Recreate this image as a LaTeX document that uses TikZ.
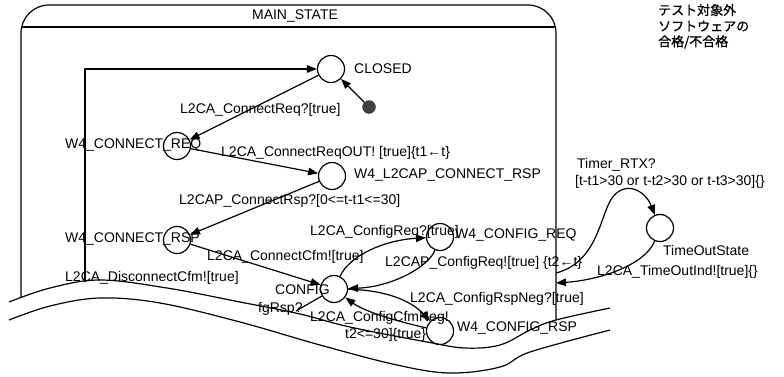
\documentclass[tikz,border=0pt]{standalone}
\usepackage{fontspec}
\setmainfont{Liberation Sans}
\newfontfamily\cjk[FakeBold=1]{Noto Sans CJK JP}
\usetikzlibrary{arrows.meta}
\begin{document}
\begin{tikzpicture}[x=1pt,y=-1pt,font=\fontsize{14}{16}\selectfont,
  st/.style={circle,draw,line width=1.2pt,minimum size=27pt,inner sep=0pt},
  lbl/.style={anchor=west,inner sep=0pt},
  arr/.style={line width=1.2pt,-{Triangle[length=10pt,width=7.5pt]}},
  ln/.style={line width=1.2pt},
  jp/.style={anchor=west,inner sep=0pt,font=\cjk\fontsize{13}{16}\selectfont}]
\useasboundingbox[fill=white] (0,0) rectangle (784,376);

% superstate box
\draw[ln,rounded corners=28pt] (21,298) -- (21,5) -- (556,5) -- (556,320);
\draw[ln] (22,27) -- (555,27);
\node[inner sep=0pt] (title) at (295,16) {MAIN\_STATE};

% states
\node[st] (closed)  at (331,69) {};
\node[circle,fill=black!75,draw=black!75,minimum size=13pt,inner sep=0pt] (init) at (369,107) {};
\node[st] (wcreq)   at (177,146) {};
\node[st] (wl2cap)  at (332,176) {};
\node[st] (wcrsp)   at (177,240) {};
\node[st] (config)  at (334,289) {};
\node[st] (wcfgreq) at (440,237) {};
\node[st] (wcfgrsp) at (440,331) {};
\node[st] (tos)     at (660,228) {};

% state labels
\node[lbl] (lclosed) at (354,69) {CLOSED};
\node[lbl] (lwcreq) at (65,145) {W4\_CONNECT\_REQ};
\node[lbl] (lwl2cap) at (354,175) {W4\_L2CAP\_CONNECT\_RSP};
\node[lbl] (lwcrsp) at (65,239) {W4\_CONNECT\_RSP};
\node[lbl] (lconfig) at (275,290) {CONFIG};
\node[lbl] (lwcfgreq) at (455,235) {W4\_CONFIG\_REQ};
\node[lbl] (lwcfgrsp) at (457,328) {W4\_CONFIG\_RSP};
\node[lbl] (ltos) at (663,250) {TimeOutState};

% free ends
\coordinate (lp) at (85,282);
\coordinate (cfgout) at (296,311);
\coordinate (tb1) at (556,273);
\coordinate (tb2) at (556,283);

% transitions
\draw[arr] (lp) |- (closed);
\draw[arr] (init) -- (closed);
\draw[arr] (closed) -- (wcreq);
\draw[arr] (wcreq) -- (wl2cap);
\draw[arr] (wl2cap) -- (wcrsp);
\draw[arr] (wcrsp) -- (config);
\draw[arr] (config) .. controls (350,255) and (385,240) .. (wcfgreq);
\draw[arr] (wcfgreq) .. controls (428,268) and (390,287) .. (config);
\draw[arr] (config) .. controls (385,290) and (410,300) .. (wcfgrsp);
\draw[arr] (wcfgrsp) .. controls (400,322) and (365,312) .. (config);
\draw[ln] (config) -- (cfgout);
\draw[arr] (tb1) .. controls (598,262) and (600,215) .. (612,198) .. controls (625,180) and (645,190) .. (tos);
\draw[arr] (tos) .. controls (645,265) and (600,280) .. (tb2);

% transition labels
\node[lbl] (t1) at (180,110) {L2CA\_ConnectReq?[true]};
\node[lbl] (t2) at (221,153) {L2CA\_ConnectReqOUT! [true]\{t1←t\}};
\node[lbl] (t3) at (179,201) {L2CAP\_ConnectRsp?[0<=t-t1<=30]};
\node[lbl] (t4) at (207,257) {L2CA\_ConnectCfm![true]};
\node[lbl] (t5) at (65,278) {L2CA\_DisconnectCfm![true]};
\node[lbl] (t6) at (258,309) {fgRsp?};
\node[lbl] (t7) at (310,232) {L2CA\_ConfigReq?[true]};
\node[lbl] (t8) at (385,263) {L2CAP\_ConfigReq![true] \{t2←t\}};
\node[lbl] (t9) at (410,299) {L2CA\_ConfigRspNeg?[true]};
\node[lbl] (t10) at (310,318) {L2CA\_ConfigCfmNeg!};
\node[lbl] (t11) at (345,335) {t2<=30]\{true\}};
\node[lbl] (t12) at (577,165) {Timer\_RTX?};
\node[lbl] (t13) at (575,182) {[t-t1>30 or t-t2>30 or t-t3>30]\{\}};
\node[lbl] (t14) at (597,272) {L2CA\_TimeOutInd![true]\{\}};

% break (wavy cut)
\draw[ln] plot[smooth,tension=0.6] coordinates {(9,302) (50,288) (100,280) (167,288) (240,302) (300,314) (350,327) (427,342) (465,348) (500,345) (530,330) (556,320) (610,308)};
\draw[ln] plot[smooth,tension=0.6] coordinates {(9,320) (50,306) (100,298) (160,303) (240,322) (320,345) (397,365) (450,373) (500,367) (530,352) (610,330)};

% note
\node[jp] (j1) at (658,10) {テスト対象外};
\node[jp] (j2) at (658,26) {ソフトウェアの};
\node[jp] (j3) at (658,42) {合格/不合格};
\end{tikzpicture}
\end{document}
